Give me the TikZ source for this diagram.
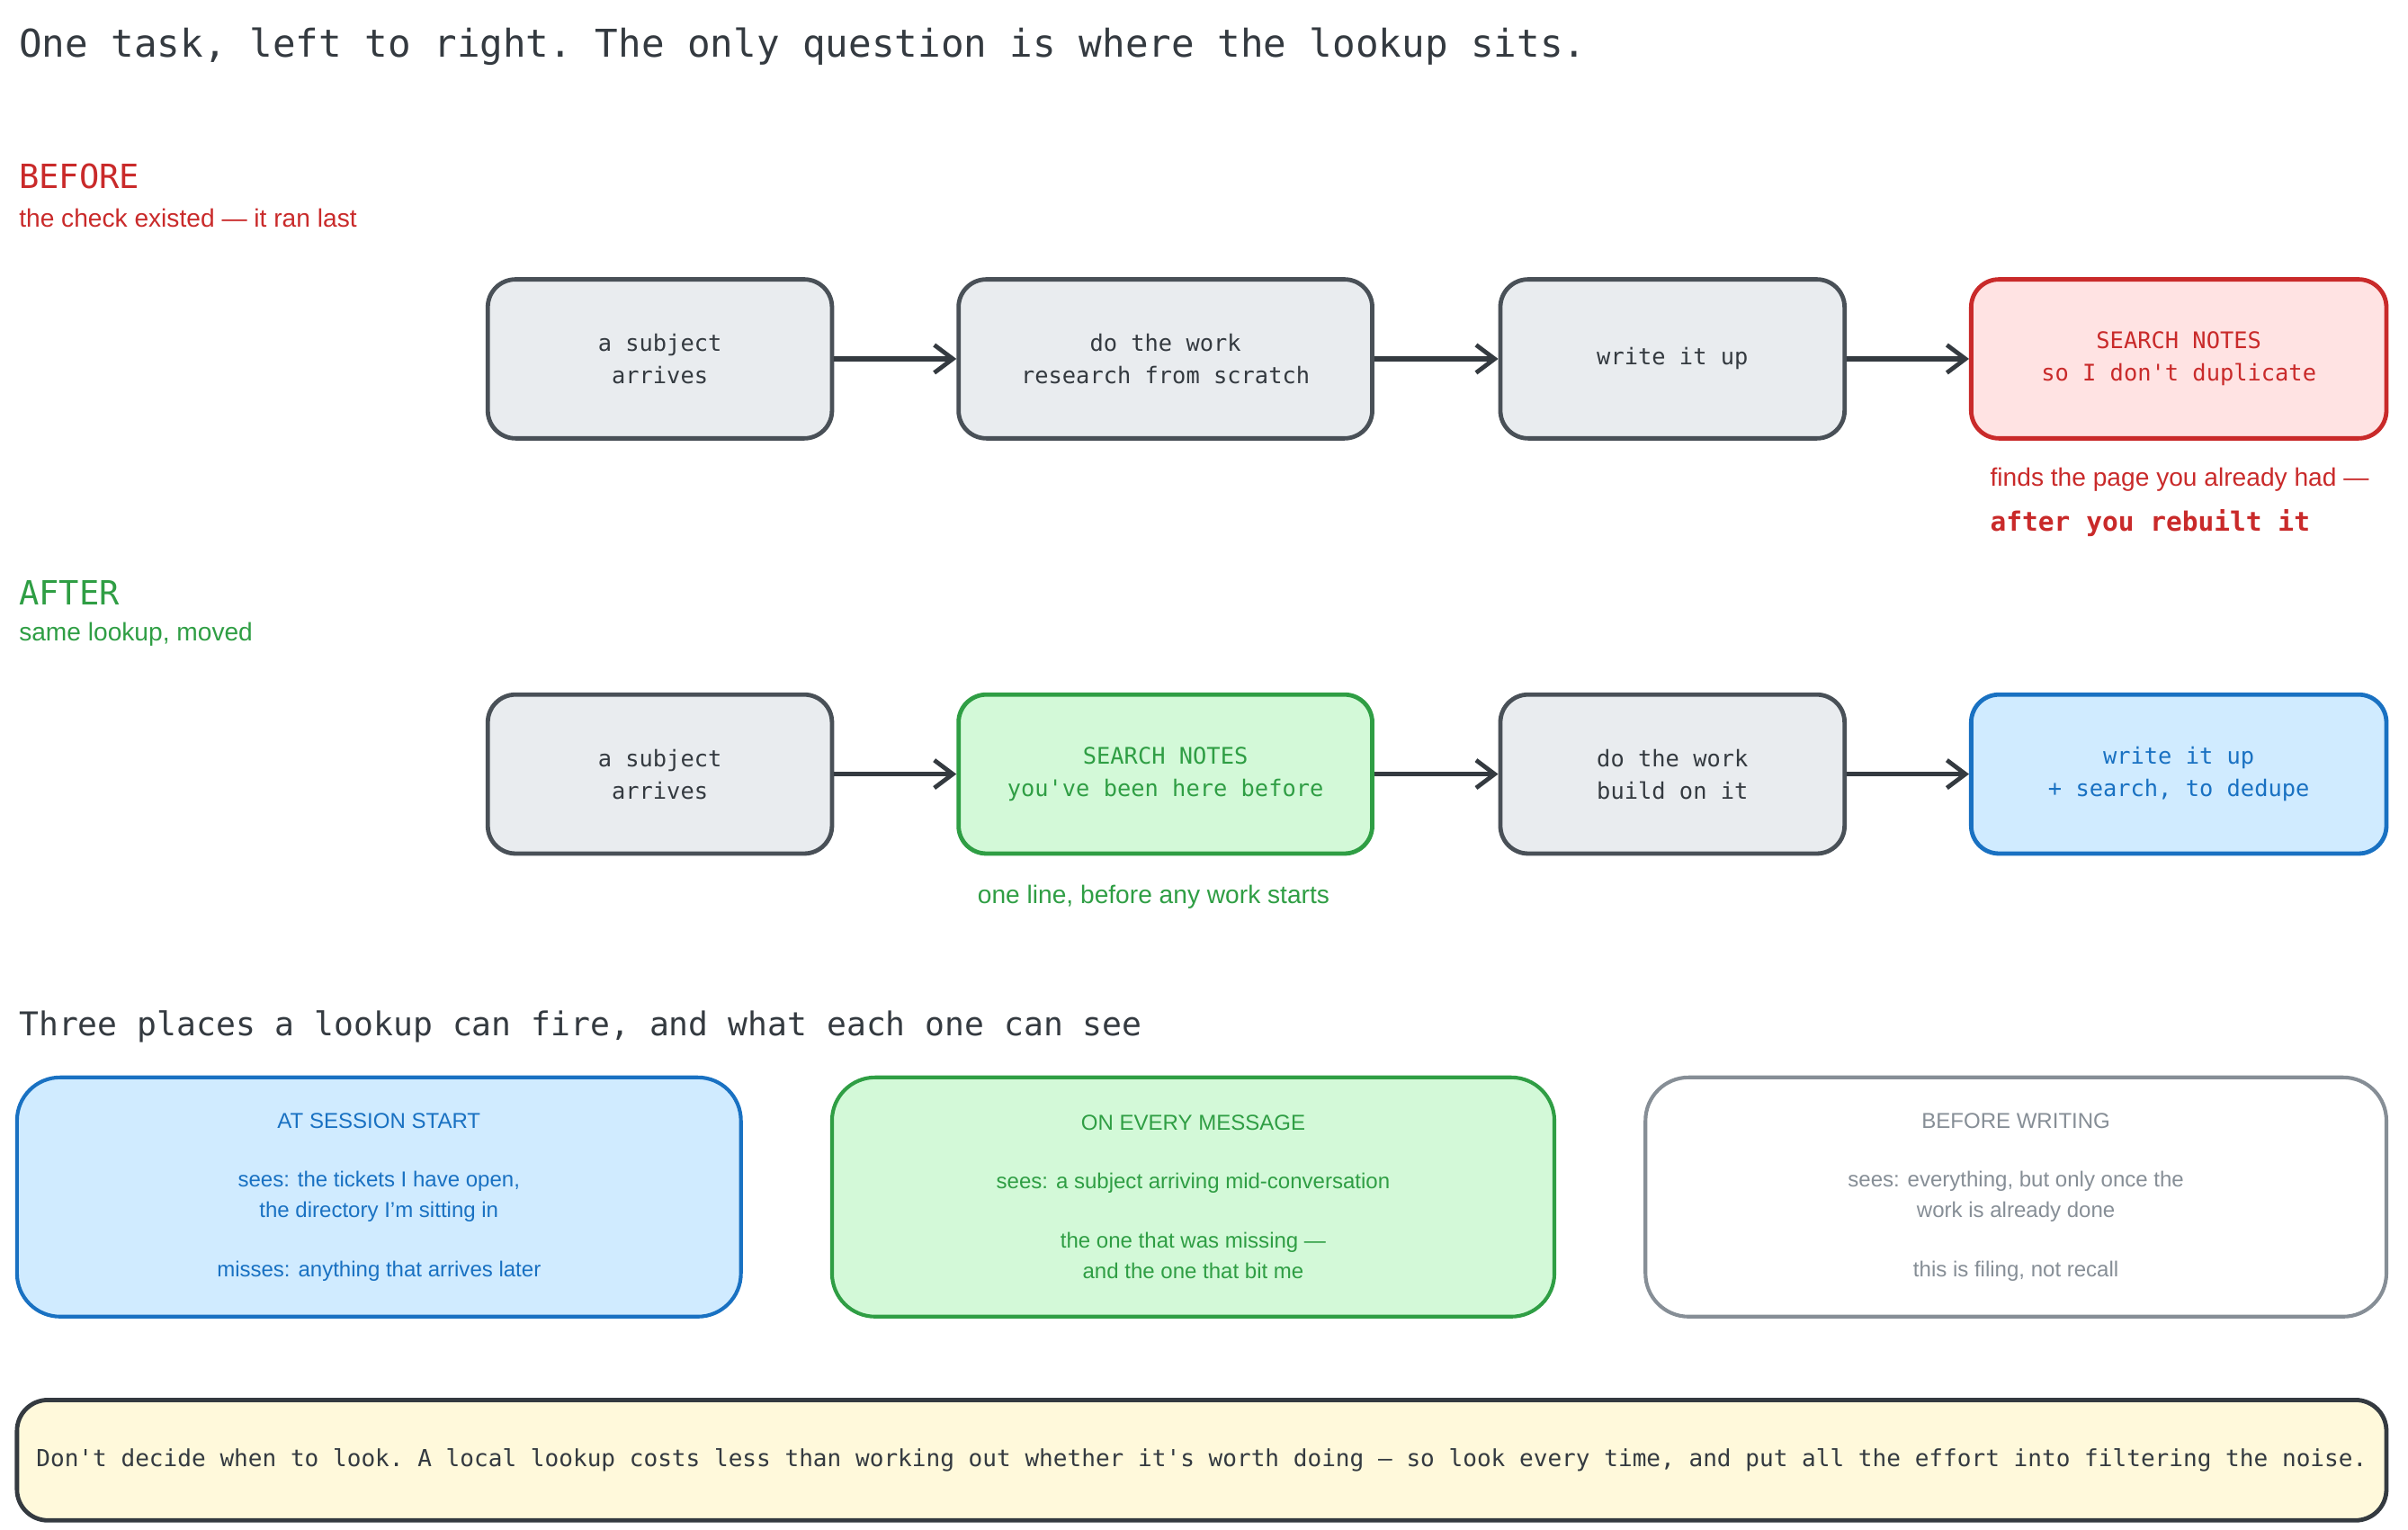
\documentclass[tikz,border=0pt]{standalone}
\usepackage{fontspec}
\setmainfont{Liberation Sans}
\setmonofont{DejaVu Sans Mono}
\usetikzlibrary{arrows.meta}
\definecolor{gs}{HTML}{495057}\definecolor{gf}{HTML}{E9ECEF}
\definecolor{rs}{HTML}{C92A2A}\definecolor{rf}{HTML}{FFE3E3}
\definecolor{ns}{HTML}{2F9E44}\definecolor{nf}{HTML}{D3F9D8}
\definecolor{bs}{HTML}{1971C2}\definecolor{bf}{HTML}{D0EBFF}
\definecolor{ys}{HTML}{343A40}\definecolor{yf}{HTML}{FFF9DB}
\definecolor{gt}{HTML}{868E96}\definecolor{dk}{HTML}{343A40}
\tikzset{
 box/.style={draw=gs,fill=gf,line width=1.4pt,rounded corners=9pt,align=center,text=dk,font=\ttfamily\fontsize{7.4}{10.5}\selectfont},
 red/.style={box,draw=rs,fill=rf,text=rs},
 grn/.style={box,draw=ns,fill=nf,text=ns},
 blu/.style={box,draw=bs,fill=bf,text=bs},
 info/.style={draw,line width=1.2pt,rounded corners=14pt,align=center,font=\fontsize{7}{10}\selectfont},
 arr/.style={-{Straight Barb[length=6pt,width=9pt,line width=1.4pt]},line width=1.6pt,draw=dk},
 lab/.style={anchor=west,inner sep=0pt}
}
\newcommand{\bx}[6]{\node[#1,minimum width={(#4-#2)*0.5pt},minimum height={(#5-#3)*0.5pt}] (#6) at ({(#2+#4)/2},{(#3+#5)/2})}
\begin{document}
\begin{tikzpicture}[x=0.5pt,y=-0.5pt]
\useasboundingbox (0,0) rectangle (1560,991);
\node[lab,text=dk,font=\ttfamily\fontsize{12.4}{14}\selectfont] (t) at (12,30) {One task, left to right. The only question is where the lookup sits.};
\node[lab,text=rs,font=\ttfamily\fontsize{10.8}{12}\selectfont] (b1) at (12,114) {BEFORE};
\node[lab,text=rs,font=\fontsize{8.2}{10}\selectfont] (b2) at (12,141) {the check existed — it ran last};
\bx{box}{316}{181}{539}{284}{a1} {a subject\\arrives};
\bx{box}{621}{181}{889}{284}{a2} {do the work\\research from scratch};
\bx{box}{972}{181}{1195}{284}{a3} {write it up};
\bx{red}{1277}{181}{1546}{284}{a4} {SEARCH NOTES\\so I don't duplicate};
\draw[arr] (a1)--(a2); \draw[arr] (a2)--(a3); \draw[arr] (a3)--(a4);
\node[lab,text=rs,font=\fontsize{8.2}{10}\selectfont] (n1) at (1289,311) {finds the page you already had —};
\node[lab,text=rs,font=\ttfamily\bfseries\fontsize{8.6}{10}\selectfont] (n2) at (1289,339) {after you rebuilt it};
\node[lab,text=ns,font=\ttfamily\fontsize{10.8}{12}\selectfont] (c1) at (12,384) {AFTER};
\node[lab,text=ns,font=\fontsize{8.2}{10}\selectfont] (c2) at (12,411) {same lookup, moved};
\bx{box}{316}{450}{539}{553}{d1} {a subject\\arrives};
\bx{grn}{621}{450}{889}{553}{d2} {SEARCH NOTES\\you've been here before};
\bx{box}{972}{450}{1195}{553}{d3} {do the work\\build on it};
\bx{blu}{1277}{450}{1546}{553}{d4} {write it up\\+ search, to dedupe};
\draw[arr] (d1)--(d2); \draw[arr] (d2)--(d3); \draw[arr] (d3)--(d4);
\node[lab,text=ns,font=\fontsize{8.2}{10}\selectfont] (n3) at (633,581) {one line, before any work starts};
\node[lab,text=dk,font=\ttfamily\fontsize{10.6}{12}\selectfont] (t2) at (12,665) {Three places a lookup can fire, and what each one can see};
\bx{info,draw=bs,fill=bf,text=bs}{11}{698}{480}{853}{e1} {AT SESSION START\\[9pt]sees: the tickets I have open,\\the directory I'm sitting in\\[9pt]misses: anything that arrives later};
\bx{info,draw=ns,fill=nf,text=ns}{539}{698}{1007}{853}{e2} {ON EVERY MESSAGE\\[9pt]sees: a subject arriving mid-conversation\\[9pt]the one that was missing —\\and the one that bit me};
\bx{info,draw=gt,fill=white,text=gt}{1066}{698}{1546}{853}{e3} {BEFORE WRITING\\[9pt]sees: everything, but only once the\\work is already done\\[9pt]this is filing, not recall};
\node[draw=ys,fill=yf,line width=1.4pt,rounded corners=10pt,minimum width=767.5pt,minimum height=39pt,inner sep=0pt] (f) at (778.5,946) {};
\node[text=dk,font=\ttfamily\fontsize{7.6}{10}\selectfont,inner sep=0pt] (ft) at (f.center) {Don't decide when to look. A local lookup costs less than working out whether it's worth doing — so look every time, and put all the effort into filtering the noise.};
\end{tikzpicture}
\end{document}
